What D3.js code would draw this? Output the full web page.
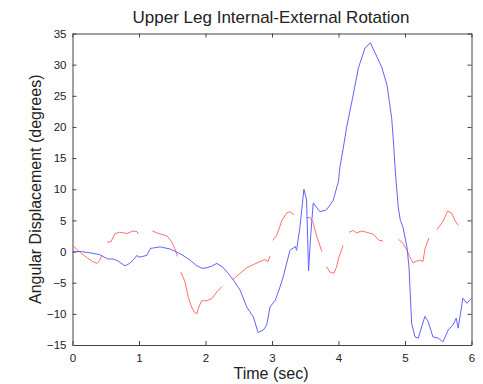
<!DOCTYPE html>
<html>
<head>
<meta charset="utf-8">
<script src="https://cdn.jsdelivr.net/npm/d3@7"></script>
<style>
  body { margin: 0; background: #fff; }
  svg text { font-family: "Liberation Sans", Arial, sans-serif; fill: #222; }
</style>
</head>
<body>
<div id="chart"></div>
<script>
// tick values
let xTicks = [0, 1, 2, 3, 4, 5, 6];
let yTicks = [-15, -10, -5, 0, 5, 10, 15, 20, 25, 30, 35];

// blue trace: [time, degrees]
let blueSeries = [
  [0, 0], [0.13, 0], [0.26, -0.2], [0.41, -0.5], [0.53, -1.2], [0.61, -1.2], [0.68, -1.5],
  [0.79, -2.3], [0.86, -1.9], [0.91, -1.4], [0.97, -0.6], [0.99, -0.9], [1.05, -0.8],
  [1.12, -0.6], [1.17, 0.5], [1.32, 0.75], [1.47, 0.4], [1.59, -0.2], [1.66, -0.6],
  [1.77, -1.4], [1.87, -2.3], [1.95, -2.7], [2.02, -2.6], [2.1, -2.3], [2.17, -1.9],
  [2.26, -2.5], [2.34, -3.5], [2.42, -4.6], [2.52, -6.2], [2.62, -8.9], [2.72, -10.5],
  [2.79, -13.0], [2.87, -12.6], [2.92, -11.8], [2.97, -8.9], [3.05, -7.8], [3.12, -5.7],
  [3.17, -4.0], [3.27, 0.2], [3.35, 0.8], [3.37, 0.2], [3.42, 3.9], [3.48, 10],
  [3.52, 8.3], [3.55, -3.1], [3.58, 2.3], [3.62, 7.8], [3.72, 6.4], [3.82, 6.7],
  [3.92, 8.2], [4.0, 11.3], [4.02, 13.5], [4.07, 16.5], [4.12, 19.8], [4.22, 25.1],
  [4.3, 29.5], [4.4, 32.7], [4.48, 33.5], [4.55, 31.9], [4.65, 29.6], [4.73, 26.7],
  [4.8, 21.4], [4.83, 17], [4.86, 12], [4.9, 7], [4.93, 5], [4.97, 3.9], [5.03, 0.7],
  [5.06, -2.5], [5.1, -11.5], [5.15, -13.7], [5.2, -13.9], [5.25, -12.1], [5.3, -10.4],
  [5.35, -11.3], [5.42, -13.7], [5.5, -13.9], [5.57, -14.5], [5.65, -12.6], [5.72, -11.8],
  [5.77, -10.7], [5.8, -12.3], [5.87, -7.5], [5.93, -8.3], [6.0, -7.5]
];

// red trace, broken into pieces (null = gap)
let redSeries = [
  [0, 1], [0.11, -0.1], [0.22, -1], [0.3, -1.6], [0.37, -1.9], [0.41, -1.4], [0.44, -0.6],
  null,
  [0.52, 1.5], [0.58, 1.6], [0.64, 2.9], [0.71, 3.1], [0.82, 2.9], [0.91, 3.3], [0.97, 3.2], [0.99, 2.8],
  null,
  [1.2, 3.3], [1.27, 3.0], [1.42, 2.5], [1.49, 1.6], [1.54, 0.4], [1.58, -0.8],
  null,
  [1.63, -3.3], [1.69, -4.8], [1.74, -7.3], [1.79, -8.9], [1.83, -9.7], [1.87, -10],
  [1.89, -9.2], [1.94, -7.9], [2.02, -7.9], [2.1, -7.5], [2.17, -6.5], [2.25, -5.6],
  null,
  [2.41, -4.5], [2.52, -3.5], [2.62, -2.6], [2.72, -2.1], [2.82, -1.6], [2.89, -1.3],
  [2.94, -1.6], [2.97, -0.7],
  null,
  [3.01, 1.8], [3.07, 2.6], [3.15, 5.0], [3.22, 6.2], [3.27, 6.4], [3.33, 5.9],
  null,
  [3.51, 5.4], [3.57, 5.5], [3.62, 4.6], [3.67, 2.5], [3.75, 0],
  null,
  [3.82, -2.4], [3.87, -3.3], [3.93, -3.5], [3.97, -2.5], [4.0, -1.1], [4.07, 1.0],
  null,
  [4.16, 3.1], [4.22, 3.4], [4.27, 3.0], [4.35, 3.3], [4.42, 3.1], [4.52, 2.8],
  [4.61, 1.8], [4.67, 1.7],
  null,
  [4.9, 2.0], [4.97, 1.3], [5.03, 0.2], [5.08, -1.0], [5.12, -1.8], [5.18, -1.5],
  [5.23, -1.4], [5.27, -1.6], [5.3, 0.4], [5.36, 2.2],
  null,
  [5.48, 3.5], [5.57, 4.8], [5.64, 6.5], [5.7, 6.2], [5.75, 5.0], [5.8, 4.2]
];

let width = 483;
let height = 384;
let margin = ({top: 33.5, right: 11.5, bottom: 39, left: 72.5});

let svg = d3.select("#chart")
    .append("svg")
    .attr("width", width)
    .attr("height", height);

let xScale = d3.scaleLinear()
    .domain([0, 6])
    .range([margin.left, width - margin.right]);

let yScale = d3.scaleLinear()
    .domain([-15, 35])
    .range([height - margin.bottom, margin.top]);

// axes with inward ticks on all four sides
function styleAxis(g) {
  g.selectAll("path.domain").attr("stroke", "#444").attr("stroke-width", 1);
  g.selectAll(".tick line").attr("stroke", "#444");
  g.selectAll(".tick text").style("font-size", "11.5px").style("font-family", "Liberation Sans, Arial, sans-serif").attr("fill", "#222");
}

svg.append("g")
    .attr("transform", "translate(0," + (height - margin.bottom) + ")")
    .call(d3.axisBottom(xScale).tickValues(xTicks).tickFormat(d3.format("d")).tickSizeInner(-4).tickSizeOuter(0).tickPadding(9))
    .call(styleAxis);

svg.append("g")
    .attr("transform", "translate(0," + margin.top + ")")
    .call(d3.axisTop(xScale).tickValues(xTicks).tickSizeInner(-4).tickSizeOuter(0).tickFormat(""))
    .call(styleAxis);

svg.append("g")
    .attr("transform", "translate(" + margin.left + ",0)")
    .call(d3.axisLeft(yScale).tickValues(yTicks).tickFormat(d3.format("d")).tickSizeInner(-4).tickSizeOuter(0).tickPadding(6))
    .call(styleAxis);

svg.append("g")
    .attr("transform", "translate(" + (width - margin.right) + ",0)")
    .call(d3.axisRight(yScale).tickValues(yTicks).tickSizeInner(-4).tickSizeOuter(0).tickFormat(""))
    .call(styleAxis);

let line = d3.line()
    .defined(function(d) { return d !== null; })
    .x(function(d) { return xScale(d[0]); })
    .y(function(d) { return yScale(d[1]); });

svg.append("path")
    .datum(redSeries)
    .attr("fill", "none")
    .attr("stroke", "#ff6f6f")
    .attr("stroke-width", 1)
    .attr("d", line);

svg.append("path")
    .datum(blueSeries)
    .attr("fill", "none")
    .attr("stroke", "#6262ff")
    .attr("stroke-width", 1)
    .attr("d", line);

// title and labels
svg.append("text")
    .attr("x", 271)
    .attr("y", 23)
    .attr("text-anchor", "middle")
    .style("font-size", "17px")
    .text("Upper Leg Internal-External Rotation");

svg.append("text")
    .attr("x", 271)
    .attr("y", 379)
    .attr("text-anchor", "middle")
    .style("font-size", "16px")
    .text("Time (sec)");

svg.append("text")
    .attr("transform", "translate(41," + ((margin.top + height - margin.bottom) / 2) + ") rotate(-90)")
    .attr("text-anchor", "middle")
    .style("font-size", "16px")
    .text("Angular Displacement (degrees)");
</script>
</body>
</html>
